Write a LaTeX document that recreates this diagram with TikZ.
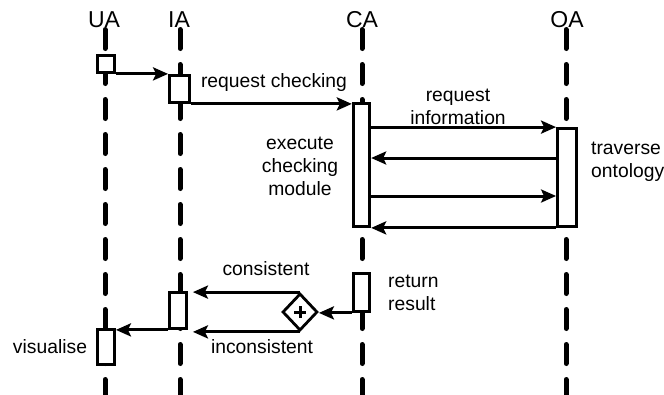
\documentclass[tikz,border=0pt]{standalone}
\usepackage{fontspec}
\setmainfont{Liberation Sans}
\usetikzlibrary{arrows.meta,shapes.geometric}
\begin{document}
\begin{tikzpicture}[x=1pt,y=-1pt,
  lbl/.style={font=\fontsize{19.3}{23}\selectfont, inner sep=0pt, align=center},
  head/.style={font=\fontsize{23}{26}\selectfont, inner sep=0pt},
  life/.style={line width=5pt, line cap=round, dash pattern=on 19pt off 16pt},
  act/.style={draw, fill=white, line width=2.8pt, inner sep=0pt},
  msg/.style={line width=3pt, -{Stealth[length=15pt,width=13pt,inset=3pt]}},
]
\useasboundingbox (0,0) rectangle (664,394);
% headers
\node[head] (UA) at (104,20) {UA};
\node[head] (IA) at (179,20) {IA};
\node[head] (CA) at (362,20) {CA};
\node[head] (OA) at (567,20) {OA};
% lifelines
\coordinate (UAt) at (105,29.5); \coordinate (UAb) at (105,400);
\coordinate (IAt) at (180,29.5); \coordinate (IAb) at (180,400);
\coordinate (CAt) at (362,29.5); \coordinate (CAb) at (362,400);
\coordinate (OAt) at (566,29.5); \coordinate (OAb) at (566,400);
\draw[life] (UAt) -- (UAb);
\draw[life] (IAt) -- (IAb);
\draw[life] (CAt) -- (CAb);
\draw[life] (OAt) -- (OAb);
% activation boxes
\node[act, minimum width=17pt, minimum height=17pt] (ua1) at (106,64) {};
\node[act, minimum width=20pt, minimum height=27pt] (ia1) at (179.5,89) {};
\node[act, minimum width=16.5pt, minimum height=123pt] (ca1) at (361.5,165) {};
\node[act, minimum width=19pt, minimum height=98pt] (oa1) at (567,177.5) {};
\node[act, minimum width=16.5pt, minimum height=38pt] (ca2) at (361.5,292.5) {};
\node[act, minimum width=17pt, minimum height=36pt] (ia2) at (178,310.5) {};
\node[act, minimum width=17pt, minimum height=35pt] (ua2) at (106,347) {};
\node[draw, fill=white, line width=2.8pt, diamond, inner sep=0pt, minimum width=35pt, minimum height=37pt] (dia) at (300,312) {};
\draw[line width=3pt] ([xshift=-6pt]dia.center) -- ([xshift=6pt]dia.center);
\draw[line width=3pt] ([yshift=-6pt]dia.center) -- ([yshift=6pt]dia.center);
% messages
\draw[msg] (ua1.south east) -- (ua1.south east -| ia1.west);
\draw[msg] (ia1.south east) -- (ia1.south east -| ca1.west);
\draw[msg] (ca1.east |- oa1.north west) -- (oa1.north west);
\draw[msg] (oa1.west |- 0,158) -- (ca1.east |- 0,158);
\draw[msg] (ca1.east |- 0,196) -- (oa1.west |- 0,196);
\draw[msg] (oa1.south west) -- (oa1.south west -| ca1.east);
\draw[msg] (ca2.south west) -- (ca2.south west -| dia.east);
\draw[msg, shorten >=5pt] (dia.north) -- (dia.north -| ia2.east);
\draw[msg, shorten >=5pt] (dia.south) -- (dia.south -| ia2.east);
\draw[msg] (ia2.south west) -- (ia2.south west -| ua2.north east);
% labels
\node[lbl, anchor=base] (rc) at (274,87) {request checking};
\node[lbl] (ri) at (458,107) {request\\information};
\node[lbl] (ecm) at (300,166) {execute\\checking\\module};
\node[lbl, align=left, anchor=west] (to) at (591,162) {traverse\\ontology};
\node[lbl, align=left, anchor=west] (rr) at (388,293) {return\\result};
\node[lbl, anchor=base] (cons) at (266,275) {consistent};
\node[lbl, anchor=base] (incons) at (262,353) {inconsistent};
\node[lbl, anchor=base] (vis) at (50,353) {visualise};
\end{tikzpicture}
\end{document}
